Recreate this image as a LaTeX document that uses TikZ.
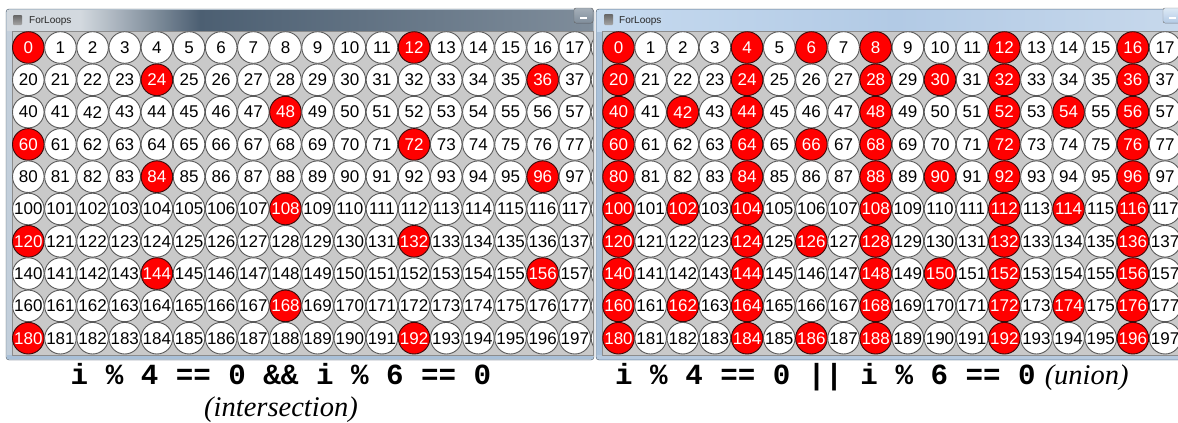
\documentclass[tikz,border=0pt]{standalone}
\usepackage{fontspec}
\newfontfamily\numfont{Liberation Sans}
\newfontfamily\codefont{Liberation Mono}
\newfontfamily\capfont{Liberation Serif}
\definecolor{cellgray}{HTML}{C9C9C9}
\definecolor{ringgray}{HTML}{5A5A5A}
\definecolor{hitred}{HTML}{FF0000}
\definecolor{hitrim}{HTML}{3A0A0A}
\definecolor{frameA}{HTML}{C3CFDB}
\definecolor{frameB}{HTML}{A9C0D8}
\definecolor{frameline}{HTML}{4A5866}
\definecolor{titleL1}{HTML}{D3D9DF}
\definecolor{titleL2}{HTML}{4C5F72}
\definecolor{titleL3}{HTML}{7F8D9B}
\definecolor{titleR1}{HTML}{C6DAEF}
\definecolor{titleR2}{HTML}{B2CAE5}
\definecolor{titleR3}{HTML}{C8D9EC}
\begin{document}
\begin{tikzpicture}[x=1pt,y=-1pt,
  cell/.style={circle,draw=ringgray,fill=white,line width=0.9pt,minimum size=31.6pt,inner sep=0pt,
    font=\numfont\fontsize{17}{17}\selectfont,text=black},
  hit/.style={cell,fill=hitred,draw=hitrim,text=white},
  leftcell/.code={\ifnum\leftred=1 \tikzset{hit}\else\tikzset{cell}\fi},
  rightcell/.code={\ifnum\rightred=1 \tikzset{hit}\else\tikzset{cell}\fi},
  wintitle/.style={anchor=base west,inner sep=0pt,font=\numfont\fontsize{10}{11}\selectfont,text=black!85},
  codetext/.style={inner sep=0pt,font=\codefont\bfseries\fontsize{29.2}{30}\selectfont},
  captext/.style={inner sep=0pt,font=\capfont\itshape\fontsize{28.5}{30}\selectfont}]
\useasboundingbox (0,0) rectangle (1178,423);
\fill[white] (0,0) rectangle (1178,423);
% ---------- left window ----------
\filldraw[fill=frameA,draw=frameline,rounded corners=3pt] (6,9) rectangle (594,360);
\fill[titleL1] (7,10) rectangle (80,31);
\shade[left color=titleL1,right color=titleL2] (80,10) rectangle (200,31);
\shade[left color=titleL2,right color=titleL3] (200,10) rectangle (593,31);
\fill[frameB] (7,355) rectangle (593,359);
\filldraw[fill=cellgray,draw=black!45] (12,31) rectangle (593,355);
\begin{scope}
  \clip (12,31) rectangle (593,355);
  \foreach \r in {0,...,9}{
    \foreach \c in {0,...,17}{
      \pgfmathtruncatemacro\cellnum{20*\r+\c}
      \pgfmathtruncatemacro\leftred{(mod(\cellnum,12)==0)}
      \node[leftcell] (L\cellnum) at ({28.3+32.15*\c},{47.5+32.3*\r}) {\cellnum};
    }
    \pgfmathtruncatemacro\cellnum{20*\r+18}
    \def\leftred{0}
    \node[leftcell] (L\cellnum) at ({28.3+32.15*18},{47.5+32.3*\r}) {};
  }
\end{scope}
\shade[top color=black!60!white,bottom color=black!35,rounded corners=1pt] (13,15) rectangle (22,25);
\node[wintitle] (titleL) at (29,23.5) {ForLoops};
\filldraw[draw=black!55,top color=titleL3!70!white,bottom color=titleL3,rounded corners=2pt] (574,8) rectangle (593,23);
\fill[white] (580,16.5) rectangle (587,18.5);
% ---------- right window ----------
\begin{scope}
  \clip (0,0) rectangle (1178,423);
  \filldraw[fill=frameB,draw=frameline,rounded corners=3pt] (596,9) rectangle (1195,360);
  \shade[left color=titleR1,right color=titleR3,middle color=titleR2] (597,10) rectangle (1194,31);
  \fill[frameB!85!white] (597,355) rectangle (1194,359);
  \filldraw[fill=cellgray,draw=black!45] (602,31) rectangle (1190,355);
\end{scope}
\begin{scope}
  \clip (602,31) rectangle (1178,355);
  \foreach \r in {0,...,9}{
    \foreach \c in {0,...,17}{
      \pgfmathtruncatemacro\cellnum{20*\r+\c}
      \pgfmathtruncatemacro\rightred{or(mod(\cellnum,4)==0,mod(\cellnum,6)==0)}
      \node[rightcell] (R\cellnum) at ({618.5+32.15*\c},{47.5+32.3*\r}) {\cellnum};
    }
  }
\end{scope}
\shade[top color=black!60!white,bottom color=black!35,rounded corners=1pt] (604,14) rectangle (613,25);
\node[wintitle] (titleR) at (619,23.5) {ForLoops};
\filldraw[draw=black!45,top color=titleR1!60!white,bottom color=titleR2,rounded corners=2pt] (1163,8) rectangle (1182,23);
\fill[white] (1169,16.5) rectangle (1176,18.5);
% ---------- captions ----------
\node[codetext,anchor=base] (capL) at (281,384.5) {i \% 4 == 0 \&\& i \% 6 == 0};
\node[captext,anchor=base] (subL) at (281,416) {(intersection)};
\node[anchor=base west,inner sep=0pt] (capR) at (615,384.5)
  {{\codefont\bfseries\fontsize{29.2}{30}\selectfont i \% 4 == 0 || i \% 6 == 0}\hspace{9pt}{\capfont\itshape\fontsize{28.5}{30}\selectfont (union)}};
\end{tikzpicture}
\end{document}
